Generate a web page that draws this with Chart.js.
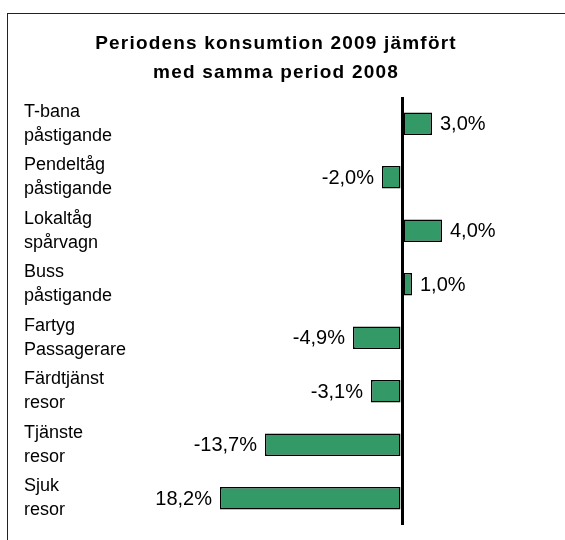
<!DOCTYPE html>
<html>
<head>
<meta charset="utf-8">
<script src="https://cdn.jsdelivr.net/npm/chart.js@4/dist/chart.umd.min.js"></script>
<style>
  html, body { margin: 0; padding: 0; background: #fff; }
  canvas { display: block; }
</style>
</head>
<body>
<canvas id="c" width="565" height="540"></canvas>
<script>
const titleLines = ["Periodens konsumtion 2009 jämfört", "med samma period 2008"];
const categories = [
  ["T-bana", "påstigande"],
  ["Pendeltåg", "påstigande"],
  ["Lokaltåg", "spårvagn"],
  ["Buss", "påstigande"],
  ["Fartyg", "Passagerare"],
  ["Färdtjänst", "resor"],
  ["Tjänste", "resor"],
  ["Sjuk", "resor"]
];
const changeValues = [3.0, -2.0, 4.0, 1.0, -4.9, -3.1, -13.7, -18.2];
const valueLabels = ["3,0%", "-2,0%", "4,0%", "1,0%", "-4,9%", "-3,1%", "-13,7%", "18,2%"];

const FONT = "'Liberation Sans', Arial, sans-serif";

const framePlugin = {
  id: 'frame',
  beforeDraw(chart) {
    const ctx = chart.ctx;
    ctx.save();
    ctx.strokeStyle = '#222';
    ctx.lineWidth = 1;
    ctx.strokeRect(7.5, 13.5, 800, 800);
    ctx.restore();
  }
};

const titlePlugin = {
  id: 'customTitle',
  afterDraw(chart) {
    const ctx = chart.ctx;
    ctx.save();
    ctx.font = "bold 19px " + FONT;
    ctx.fillStyle = '#000';
    ctx.textAlign = 'center';
    ctx.textBaseline = 'alphabetic';
    try { ctx.letterSpacing = '1.2px'; } catch (e) {}
    ctx.fillText(titleLines[0], 276, 49);
    ctx.fillText(titleLines[1], 276, 78);
    ctx.restore();
  }
};

const valueLabelPlugin = {
  id: 'valueLabels',
  afterDatasetsDraw(chart) {
    const ctx = chart.ctx;
    const meta = chart.getDatasetMeta(0);
    ctx.save();
    ctx.font = "20px " + FONT;
    ctx.fillStyle = '#000';
    ctx.textBaseline = 'middle';
    meta.data.forEach((bar, i) => {
      const v = changeValues[i];
      if (v >= 0) {
        ctx.textAlign = 'left';
        ctx.fillText(valueLabels[i], bar.x + 8, bar.y + 1);
      } else {
        ctx.textAlign = 'right';
        ctx.fillText(valueLabels[i], bar.x - 8, bar.y + 1);
      }
    });
    ctx.restore();
  }
};

new Chart(document.getElementById('c'), {
  type: 'bar',
  data: {
    labels: categories,
    datasets: [{
      data: changeValues,
      backgroundColor: '#339966',
      borderColor: '#000',
      borderWidth: 1.5,
      borderSkipped: false,
      barPercentage: 0.42,
      categoryPercentage: 1.0
    }]
  },
  options: {
    indexAxis: 'y',
    responsive: false,
    animation: false,
    devicePixelRatio: 1,
    layout: { padding: { left: 24, right: 63, top: 97, bottom: 15 } },
    plugins: {
      legend: { display: false },
      tooltip: { enabled: false },
      title: { display: false }
    },
    scales: {
      x: {
        min: -20,
        max: 10,
        ticks: { display: false, stepSize: 10 },
        border: { display: false },
        grid: {
          drawTicks: false,
          color: (c) => (c.tick && c.tick.value === 0 ? '#000' : 'rgba(0,0,0,0)'),
          lineWidth: (c) => (c.tick && c.tick.value === 0 ? 3 : 0)
        }
      },
      y: {
        afterFit(scale) {
          scale.width = 178;
          scale.paddingTop = 0;
          scale.paddingBottom = 0;
        },
        border: { display: false },
        grid: { display: false, drawTicks: false },
        ticks: {
          crossAlign: 'far',
          color: '#000',
          padding: 0,
          font: { family: FONT, size: 18, lineHeight: 24 / 18 }
        }
      }
    }
  },
  plugins: [framePlugin, titlePlugin, valueLabelPlugin]
});
</script>
</body>
</html>
